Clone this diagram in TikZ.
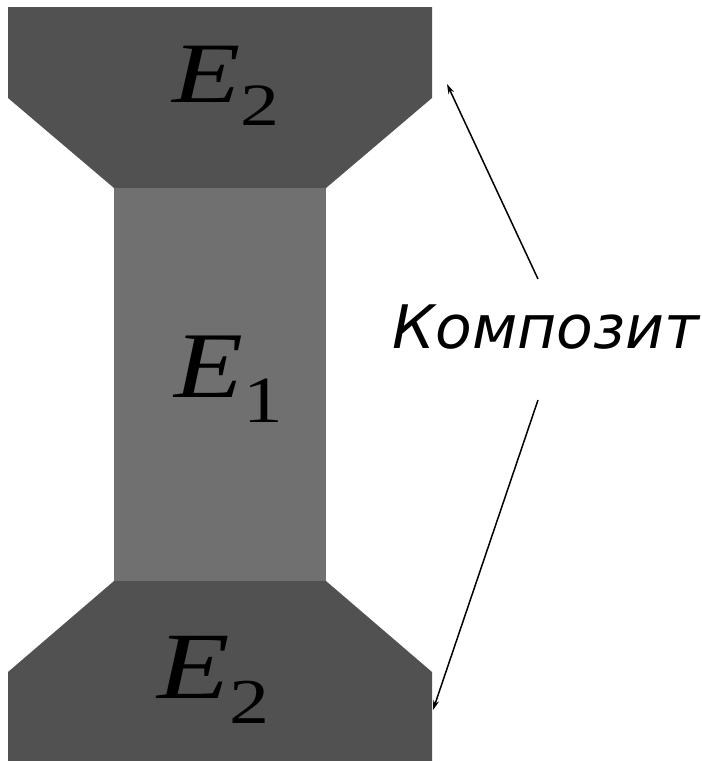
\documentclass[tikz,border=0pt]{standalone}
\usepackage{fontspec}
\setmainfont{Liberation Serif}
\newfontfamily\labelfont{DejaVu Sans}
\usetikzlibrary{arrows.meta}
\definecolor{darkpart}{RGB}{81,81,81}
\definecolor{midpart}{RGB}{112,112,112}
% modulus symbol: size of E, size of index, index, horizontal stretch
\newcommand{\modlabel}[4]{\scalebox{#4}[1]{\fontsize{#1}{#1}\selectfont\textit{E}\raisebox{-0.27em}{\fontsize{#2}{#2}\selectfont #3}}}
\tikzset{
  grip/.style={fill=darkpart, draw=none},
  gauge/.style={fill=midpart, draw=none},
  modulus/.style={inner sep=0pt, anchor=base west},
  pointer/.style={line width=1.5pt, -{Stealth[length=10pt,width=6pt]}},
}
\begin{document}
\begin{tikzpicture}[x=1pt, y=-1pt]
  \useasboundingbox (0,0) rectangle (702,761);
  % upper grip
  \fill[grip] (8,7) -- (432,7) -- (432,98) -- (326,188) -- (114,188) -- (8,98) -- cycle;
  % gauge section
  \fill[gauge] (114,188) rectangle (326,581);
  % lower grip
  \fill[grip] (114,581) -- (326,581) -- (432,672) -- (432,761) -- (8,761) -- (8,672) -- cycle;
  % moduli
  \node[modulus] (etop) at (172,102) {\modlabel{86}{60}{2}{1.3}};
  \node[modulus] (emid) at (174,397) {\modlabel{94}{66}{1}{1.2}};
  \node[modulus] (ebot) at (157,698) {\modlabel{95}{64}{2}{1.25}};
  % caption and pointers
  \node[inner sep=0pt, anchor=base] (comp) at (546,348) {\labelfont\itshape\fontsize{60}{60}\selectfont Композит};
  \coordinate (tipTop) at (447,84);
  \coordinate (tipBot) at (433,710);
  \coordinate (fromTop) at (538,279);
  \coordinate (fromBot) at (538,400);
  \draw[pointer] (fromTop) -- (tipTop);
  \draw[pointer] (fromBot) -- (tipBot);
\end{tikzpicture}
\end{document}
